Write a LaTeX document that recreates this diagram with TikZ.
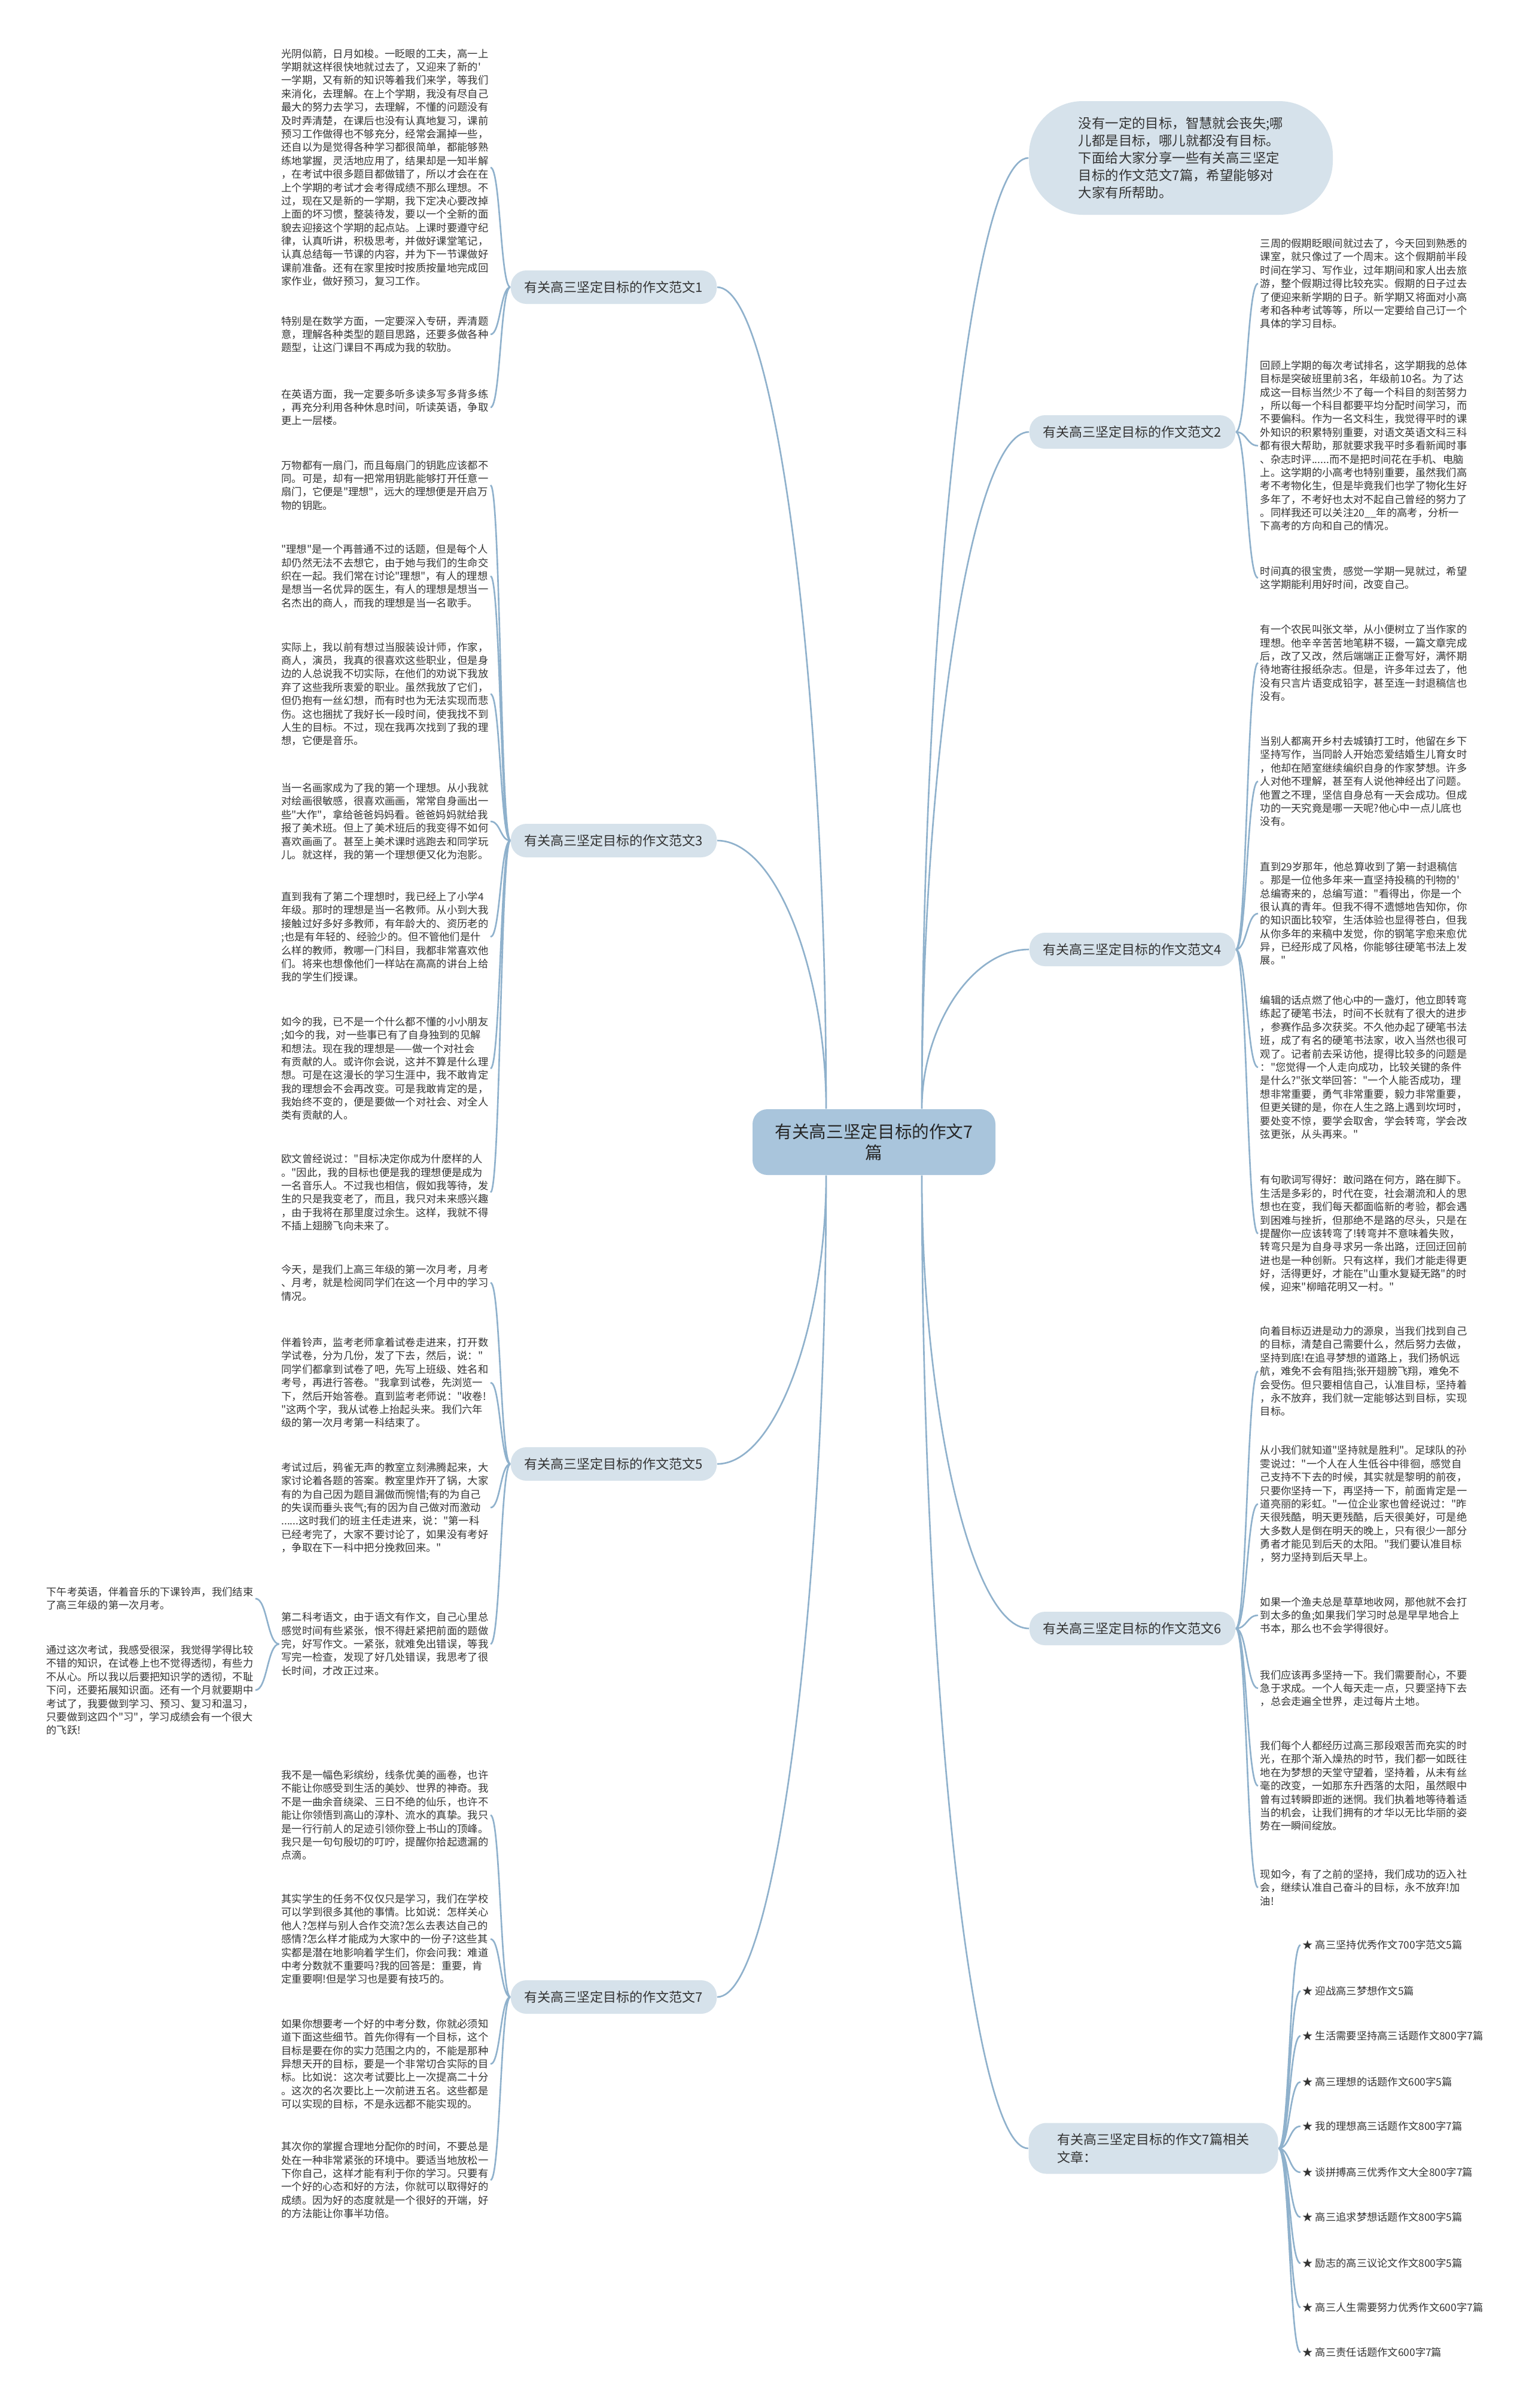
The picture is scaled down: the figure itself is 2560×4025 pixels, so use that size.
\documentclass[tikz,border=0pt]{standalone}
\usepackage{fontspec}
\newfontfamily\zhfont{Noto Sans CJK SC}
\usetikzlibrary{positioning,calc,backgrounds}
\definecolor{edgeblue}{HTML}{8FB1CC}
\definecolor{hubfill}{HTML}{A9C5DC}
\definecolor{boxfill}{HTML}{D6E2EB}
\definecolor{inkgrey}{HTML}{333333}
\tikzset{
  leaf/.style   ={font=\zhfont\fontsize{4.92}{6.37}\selectfont, text=inkgrey,
                  align=left, inner sep=0.3mm},
  branch/.style ={rectangle, rounded corners=2.6mm, fill=boxfill, text=inkgrey,
                  font=\zhfont\fontsize{6.26}{8.6}\selectfont, inner xsep=2.3mm,
                  minimum height=5.6mm},
  hub/.style    ={rectangle, rounded corners=2.5mm, fill=hubfill, text=black!85,
                  font=\zhfont\fontsize{8.15}{10.2}\selectfont, align=center,
                  minimum width=40.6mm, minimum height=11mm},
  lead/.style   ={rectangle, rounded corners=9mm, fill=boxfill, text=inkgrey,
                  font=\zhfont\fontsize{6.37}{8.25}\selectfont, align=left,
                  minimum width=50.8mm, minimum height=19mm},
  trunk/.style  ={draw=edgeblue, line width=0.75pt,
                  to path={.. controls ($(\tikztostart)!0.5!(\tikztostart |- \tikztotarget)$)
                  and ($(\tikztostart |- \tikztotarget)!0.45!(\tikztotarget)$) .. (\tikztotarget)}},
  twig/.style   ={draw=edgeblue, line width=0.75pt,
                  to path={.. controls ($(\tikztostart)!0.5!(\tikztotarget |- \tikztostart)$)
                  and ($(\tikztotarget)!0.5!(\tikztostart |- \tikztotarget)$) .. (\tikztotarget)}}
}

\begin{document}
\begin{tikzpicture}[x=0.1mm,y=-0.1mm]
\useasboundingbox (0,0) rectangle (2560,4025);
\begin{scope}[on background layer]
\fill[white] (0,0) rectangle (2560,4025);
\end{scope}

%% ---- centre and intro ----------------------------------------------
\node[hub] (hub) at (1461,1909) {有关高三坚定目标的作文7\\篇};
\node[lead] (lead) at (1974,264) {没有一定的目标，智慧就会丧失;哪\\
儿都是目标，哪儿就都没有目标。\\
下面给大家分享一些有关高三坚定\\
目标的作文范文7篇，希望能够对\\
大家有所帮助。};

\coordinate (hubNE) at ($(hub.north)+(80,0)$);
\coordinate (hubNW) at ($(hub.north)+(-80,0)$);
\coordinate (hubSE) at ($(hub.south)+(80,0)$);
\coordinate (hubSW) at ($(hub.south)+(-80,0)$);

%% ---- branches ------------------------------------------------------
\node[branch] (b1) at (1026,480) {有关高三坚定目标的作文范文1};
\node[branch] (b3) at (1026,1405) {有关高三坚定目标的作文范文3};
\node[branch] (b5) at (1026,2447) {有关高三坚定目标的作文范文5};
\node[branch] (b7) at (1026,3338) {有关高三坚定目标的作文范文7};
\node[branch] (b2) at (1893,722) {有关高三坚定目标的作文范文2};
\node[branch] (b4) at (1893,1587) {有关高三坚定目标的作文范文4};
\node[branch] (b6) at (1893,2722) {有关高三坚定目标的作文范文6};
\node[branch, align=left, minimum width=41.7mm, minimum height=8.5mm,
      rounded corners=3mm] (rel) at (1928,3591)
{有关高三坚定目标的作文7篇相关\\文章：};

%% ---- essay 1 -------------------------------------------------------
\node[leaf, anchor=east] (l1a) at (820,280) {光阴似箭，日月如梭。一眨眼的工夫，高一上\\
学期就这样很快地就过去了，又迎来了新的'\\
一学期，又有新的知识等着我们来学，等我们\\
来消化，去理解。在上个学期，我没有尽自己\\
最大的努力去学习，去理解，不懂的问题没有\\
及时弄清楚，在课后也没有认真地复习，课前\\
预习工作做得也不够充分，经常会漏掉一些，\\
还自以为是觉得各种学习都很简单，都能够熟\\
练地掌握，灵活地应用了，结果却是一知半解\\
，在考试中很多题目都做错了，所以才会在在\\
上个学期的考试才会考得成绩不那么理想。不\\
过，现在又是新的一学期，我下定决心要改掉\\
上面的坏习惯，整装待发，要以一个全新的面\\
貌去迎接这个学期的起点站。上课时要遵守纪\\
律，认真听讲，积极思考，并做好课堂笔记，\\
认真总结每一节课的内容，并为下一节课做好\\
课前准备。还有在家里按时按质按量地完成回\\
家作业，做好预习，复习工作。};
\node[leaf, anchor=east] (l1b) at (820,559) {特别是在数学方面，一定要深入专研，弄清题\\
意，理解各种类型的题目思路，还要多做各种\\
题型，让这门课目不再成为我的软肋。};
\node[leaf, anchor=east] (l1c) at (820,681) {在英语方面，我一定要多听多读多写多背多练\\
，再充分利用各种休息时间，听读英语，争取\\
更上一层楼。};

%% ---- essay 3 -------------------------------------------------------
\node[leaf, anchor=east] (l3a) at (820,811) {万物都有一扇门，而且每扇门的钥匙应该都不\\
同。可是，却有一把常用钥匙能够打开任意一\\
扇门，它便是"理想"，远大的理想便是开启万\\
物的钥匙。};
\node[leaf, anchor=east] (l3b) at (820,963) {"理想"是一个再普通不过的话题，但是每个人\\
却仍然无法不去想它，由于她与我们的生命交\\
织在一起。我们常在讨论"理想"，有人的理想\\
是想当一名优异的医生，有人的理想是想当一\\
名杰出的商人，而我的理想是当一名歌手。};
\node[leaf, anchor=east] (l3c) at (820,1160) {实际上，我以前有想过当服装设计师，作家，\\
商人，演员，我真的很喜欢这些职业，但是身\\
边的人总说我不切实际，在他们的劝说下我放\\
弃了这些我所衷爱的职业。虽然我放了它们，\\
但仍抱有一丝幻想，而有时也为无法实现而悲\\
伤。这也捆扰了我好长一段时间，使我找不到\\
人生的目标。不过，现在我再次找到了我的理\\
想，它便是音乐。};
\node[leaf, anchor=east] (l3d) at (820,1373) {当一名画家成为了我的第一个理想。从小我就\\
对绘画很敏感，很喜欢画画，常常自身画出一\\
些"大作"，拿给爸爸妈妈看。爸爸妈妈就给我\\
报了美术班。但上了美术班后的我变得不如何\\
喜欢画画了。甚至上美术课时逃跑去和同学玩\\
儿。就这样，我的第一个理想便又化为泡影。};
\node[leaf, anchor=east] (l3e) at (820,1566) {直到我有了第二个理想时，我已经上了小学4\\
年级。那时的理想是当一名教师。从小到大我\\
接触过好多好多教师，有年龄大的、资历老的\\
;也是有年轻的、经验少的。但不管他们是什\\
么样的教师，教哪一门科目，我都非常喜欢他\\
们。将来也想像他们一样站在高高的讲台上给\\
我的学生们授课。};
\node[leaf, anchor=east] (l3f) at (820,1786) {如今的我，已不是一个什么都不懂的小小朋友\\
;如今的我，对一些事已有了自身独到的见解\\
和想法。现在我的理想是——做一个对社会\\
有贡献的人。或许你会说，这并不算是什么理\\
想。可是在这漫长的学习生涯中，我不敢肯定\\
我的理想会不会再改变。可是我敢肯定的是，\\
我始终不变的，便是要做一个对社会、对全人\\
类有贡献的人。};
\node[leaf, anchor=east] (l3g) at (820,1993) {欧文曾经说过："目标决定你成为什麽样的人\\
。"因此，我的目标也便是我的理想便是成为\\
一名音乐人。不过我也相信，假如我等待，发\\
生的只是我变老了，而且，我只对未来感兴趣\\
，由于我将在那里度过余生。这样，我就不得\\
不插上翅膀飞向未来了。};

%% ---- essay 5 -------------------------------------------------------
\node[leaf, anchor=east] (l5a) at (820,2144) {今天，是我们上高三年级的第一次月考，月考\\
、月考，就是检阅同学们在这一个月中的学习\\
情况。};
\node[leaf, anchor=east] (l5b) at (820,2311) {伴着铃声，监考老师拿着试卷走进来，打开数\\
学试卷，分为几份，发了下去，然后，说："\\
同学们都拿到试卷了吧，先写上班级、姓名和\\
考号，再进行答卷。"我拿到试卷，先浏览一\\
下，然后开始答卷。直到监考老师说："收卷!\\
"这两个字，我从试卷上抬起头来。我们六年\\
级的第一次月考第一科结束了。};
\node[leaf, anchor=east] (l5c) at (820,2520) {考试过后，鸦雀无声的教室立刻沸腾起来，大\\
家讨论着各题的答案。教室里炸开了锅，大家\\
有的为自己因为题目漏做而惋惜;有的为自己\\
的失误而垂头丧气;有的因为自己做对而激动\\
......这时我们的班主任走进来，说："第一科\\
已经考完了，大家不要讨论了，如果没有考好\\
，争取在下一科中把分挽救回来。"};
\node[leaf, anchor=east] (l5d) at (820,2748) {第二科考语文，由于语文有作文，自己心里总\\
感觉时间有些紧张，恨不得赶紧把前面的题做\\
完，好写作文。一紧张，就难免出错误，等我\\
写完一检查，发现了好几处错误，我思考了很\\
长时间，才改正过来。};
\node[leaf, anchor=east] (l5e) at (427,2672) {下午考英语，伴着音乐的下课铃声，我们结束\\
了高三年级的第一次月考。};
\node[leaf, anchor=east] (l5f) at (427,2825) {通过这次考试，我感受很深，我觉得学得比较\\
不错的知识，在试卷上也不觉得透彻，有些力\\
不从心。所以我以后要把知识学的透彻，不耻\\
下问，还要拓展知识面。还有一个月就要期中\\
考试了，我要做到学习、预习、复习和温习，\\
只要做到这四个"习"，学习成绩会有一个很大\\
的飞跃!};

%% ---- essay 7 -------------------------------------------------------
\node[leaf, anchor=east] (l7a) at (820,3034) {我不是一幅色彩缤纷，线条优美的画卷，也许\\
不能让你感受到生活的美妙、世界的神奇。我\\
不是一曲余音绕梁、三日不绝的仙乐，也许不\\
能让你领悟到高山的淳朴、流水的真挚。我只\\
是一行行前人的足迹引领你登上书山的顶峰。\\
我只是一句句殷切的叮咛，提醒你拾起遗漏的\\
点滴。};
\node[leaf, anchor=east] (l7b) at (820,3241) {其实学生的任务不仅仅只是学习，我们在学校\\
可以学到很多其他的事情。比如说：怎样关心\\
他人?怎样与别人合作交流?怎么去表达自己的\\
感情?怎么样才能成为大家中的一份子?这些其\\
实都是潜在地影响着学生们，你会问我：难道\\
中考分数就不重要吗?我的回答是：重要，肯\\
定重要啊!但是学习也是要有技巧的。};
\node[leaf, anchor=east] (l7c) at (820,3450) {如果你想要考一个好的中考分数，你就必须知\\
道下面这些细节。首先你得有一个目标，这个\\
目标是要在你的实力范围之内的，不能是那种\\
异想天开的目标，要是一个非常切合实际的目\\
标。比如说：这次考试要比上一次提高二十分\\
。这次的名次要比上一次前进五名。这些都是\\
可以实现的目标，不是永远都不能实现的。};
\node[leaf, anchor=east] (l7d) at (820,3644) {其次你的掌握合理地分配你的时间，不要总是\\
处在一种非常紧张的环境中。要适当地放松一\\
下你自己，这样才能有利于你的学习。只要有\\
一个好的心态和好的方法，你就可以取得好的\\
成绩。因为好的态度就是一个很好的开端，好\\
的方法能让你事半功倍。};

%% ---- essay 2 -------------------------------------------------------
\node[leaf, anchor=west] (r2a) at (2103,474) {三周的假期眨眼间就过去了，今天回到熟悉的\\
课室，就只像过了一个周末。这个假期前半段\\
时间在学习、写作业，过年期间和家人出去旅\\
游，整个假期过得比较充实。假期的日子过去\\
了便迎来新学期的日子。新学期又将面对小高\\
考和各种考试等等，所以一定要给自己订一个\\
具体的学习目标。};
\node[leaf, anchor=west] (r2b) at (2103,745) {回顾上学期的每次考试排名，这学期我的总体\\
目标是突破班里前3名，年级前10名。为了达\\
成这一目标当然少不了每一个科目的刻苦努力\\
，所以每一个科目都要平均分配时间学习，而\\
不要偏科。作为一名文科生，我觉得平时的课\\
外知识的积累特别重要，对语文英语文科三科\\
都有很大帮助，那就要求我平时多看新闻时事\\
、杂志时评......而不是把时间花在手机、电脑\\
上。这学期的小高考也特别重要，虽然我们高\\
考不考物化生，但是毕竟我们也学了物化生好\\
多年了，不考好也太对不起自己曾经的努力了\\
。同样我还可以关注20\_\_年的高考，分析一\\
下高考的方向和自己的情况。};
\node[leaf, anchor=west] (r2c) at (2103,966) {时间真的很宝贵，感觉一学期一晃就过，希望\\
这学期能利用好时间，改变自己。};

%% ---- essay 4 -------------------------------------------------------
\node[leaf, anchor=west] (r4a) at (2103,1108) {有一个农民叫张文举，从小便树立了当作家的\\
理想。他辛辛苦苦地笔耕不辍，一篇文章完成\\
后，改了又改，然后端端正正誊写好，满怀期\\
待地寄往报纸杂志。但是，许多年过去了，他\\
没有只言片语变成铅字，甚至连一封退稿信也\\
没有。};
\node[leaf, anchor=west] (r4b) at (2103,1306) {当别人都离开乡村去城镇打工时，他留在乡下\\
坚持写作，当同龄人开始恋爱结婚生儿育女时\\
，他却在陋室继续编织自身的作家梦想。许多\\
人对他不理解，甚至有人说他神经出了问题。\\
他置之不理，坚信自身总有一天会成功。但成\\
功的一天究竟是哪一天呢?他心中一点儿底也\\
没有。};
\node[leaf, anchor=west] (r4c) at (2103,1527) {直到29岁那年，他总算收到了第一封退稿信\\
。那是一位他多年来一直坚持投稿的刊物的'\\
总编寄来的，总编写道："看得出，你是一个\\
很认真的青年。但我不得不遗憾地告知你，你\\
的知识面比较窄，生活体验也显得苍白，但我\\
从你多年的来稿中发觉，你的钢笔字愈来愈优\\
异，已经形成了风格，你能够往硬笔书法上发\\
展。"};
\node[leaf, anchor=west] (r4d) at (2103,1784) {编辑的话点燃了他心中的一盏灯，他立即转弯\\
练起了硬笔书法，时间不长就有了很大的进步\\
，参赛作品多次获奖。不久他办起了硬笔书法\\
班，成了有名的硬笔书法家，收入当然也很可\\
观了。记者前去采访他，提得比较多的问题是\\
："您觉得一个人走向成功，比较关键的条件\\
是什么?"张文举回答："一个人能否成功，理\\
想非常重要，勇气非常重要，毅力非常重要，\\
但更关键的是，你在人生之路上遇到坎坷时，\\
要处变不惊，要学会取舍，学会转弯，学会改\\
弦更张，从头再来。"};
\node[leaf, anchor=west] (r4e) at (2103,2062) {有句歌词写得好：敢问路在何方，路在脚下。\\
生活是多彩的，时代在变，社会潮流和人的思\\
想也在变，我们每天都面临新的考验，都会遇\\
到困难与挫折，但那绝不是路的尽头，只是在\\
提醒你一应该转弯了!转弯并不意味着失败，\\
转弯只是为自身寻求另一条出路，迂回迂回前\\
进也是一种创新。只有这样，我们才能走得更\\
好，活得更好，才能在"山重水复疑无路"的时\\
候，迎来"柳暗花明又一村。"};

%% ---- essay 6 -------------------------------------------------------
\node[leaf, anchor=west] (r6a) at (2103,2292) {向着目标迈进是动力的源泉，当我们找到自己\\
的目标，清楚自己需要什么，然后努力去做，\\
坚持到底!在追寻梦想的道路上，我们扬帆远\\
航，难免不会有阻挡;张开翅膀飞翔，难免不\\
会受伤。但只要相信自己，认准目标，坚持着\\
，永不放弃，我们就一定能够达到目标，实现\\
目标。};
\node[leaf, anchor=west] (r6b) at (2103,2514) {从小我们就知道"坚持就是胜利"。足球队的孙\\
雯说过："一个人在人生低谷中徘徊，感觉自\\
己支持不下去的时候，其实就是黎明的前夜，\\
只要你坚持一下，再坚持一下，前面肯定是一\\
道亮丽的彩虹。"一位企业家也曾经说过："昨\\
天很残酷，明天更残酷，后天很美好，可是绝\\
大多数人是倒在明天的晚上，只有很少一部分\\
勇者才能见到后天的太阳。"我们要认准目标\\
，努力坚持到后天早上。};
\node[leaf, anchor=west] (r6c) at (2103,2700) {如果一个渔夫总是草草地收网，那他就不会打\\
到太多的鱼;如果我们学习时总是早早地合上\\
书本，那么也不会学得很好。};
\node[leaf, anchor=west] (r6d) at (2103,2822) {我们应该再多坚持一下。我们需要耐心，不要\\
急于求成。一个人每天走一点，只要坚持下去\\
，总会走遍全世界，走过每片土地。};
\node[leaf, anchor=west] (r6e) at (2103,2985) {我们每个人都经历过高三那段艰苦而充实的时\\
光，在那个渐入燥热的时节，我们都一如既往\\
地在为梦想的天堂守望着，坚持着，从未有丝\\
毫的改变，一如那东升西落的太阳，虽然眼中\\
曾有过转瞬即逝的迷惘。我们执着地等待着适\\
当的机会，让我们拥有的才华以无比华丽的姿\\
势在一瞬间绽放。};
\node[leaf, anchor=west] (r6f) at (2103,3155) {现如今，有了之前的坚持，我们成功的迈入社\\
会，继续认准自己奋斗的目标，永不放弃!加\\
油!};

%% ---- related titles ------------------------------------------------
\node[leaf, anchor=west] (t1) at (2174,3251) {★ 高三坚持优秀作文700字范文5篇};
\node[leaf, anchor=west] (t2) at (2174,3328) {★ 迎战高三梦想作文5篇};
\node[leaf, anchor=west] (t3) at (2174,3403) {★ 生活需要坚持高三话题作文800字7篇};
\node[leaf, anchor=west] (t4) at (2174,3480) {★ 高三理想的话题作文600字5篇};
\node[leaf, anchor=west] (t5) at (2174,3554) {★ 我的理想高三话题作文800字7篇};
\node[leaf, anchor=west] (t6) at (2174,3631) {★ 谈拼搏高三优秀作文大全800字7篇};
\node[leaf, anchor=west] (t7) at (2174,3706) {★ 高三追求梦想话题作文800字5篇};
\node[leaf, anchor=west] (t8) at (2174,3783) {★ 励志的高三议论文作文800字5篇};
\node[leaf, anchor=west] (t9) at (2174,3857) {★ 高三人生需要努力优秀作文600字7篇};
\node[leaf, anchor=west] (t10) at (2174,3932) {★ 高三责任话题作文600字7篇};

%% ---- wiring --------------------------------------------------------
\begin{scope}[on background layer]
\draw[trunk] (hubNE) to (lead.west) (hubNE) to (b2.west) (hubNE) to (b4.west);
\draw[trunk] (hubSE) to (b6.west) (hubSE) to (rel.west);
\draw[trunk] (hubNW) to (b1.east) (hubNW) to (b3.east);
\draw[trunk] (hubSW) to (b5.east) (hubSW) to (b7.east);

\draw[twig] (b1.west) to (l1a.east) (b1.west) to (l1b.east) (b1.west) to (l1c.east);
\draw[twig] (b3.west) to (l3a.east) (b3.west) to (l3b.east) (b3.west) to (l3c.east)
  (b3.west) to (l3d.east) (b3.west) to (l3e.east) (b3.west) to (l3f.east)
  (b3.west) to (l3g.east);
\draw[twig] (b5.west) to (l5a.east) (b5.west) to (l5b.east) (b5.west) to (l5c.east)
  (b5.west) to (l5d.east);
\draw[twig] (l5d.west) to (l5e.east) (l5d.west) to (l5f.east);
\draw[twig] (b7.west) to (l7a.east) (b7.west) to (l7b.east) (b7.west) to (l7c.east)
  (b7.west) to (l7d.east);

\draw[twig] (b2.east) to (r2a.west) (b2.east) to (r2b.west) (b2.east) to (r2c.west);
\draw[twig] (b4.east) to (r4a.west) (b4.east) to (r4b.west) (b4.east) to (r4c.west)
  (b4.east) to (r4d.west) (b4.east) to (r4e.west);
\draw[twig] (b6.east) to (r6a.west) (b6.east) to (r6b.west) (b6.east) to (r6c.west)
  (b6.east) to (r6d.west) (b6.east) to (r6e.west) (b6.east) to (r6f.west);
\draw[twig] (rel.east) to (t1.west) (rel.east) to (t2.west) (rel.east) to (t3.west)
  (rel.east) to (t4.west) (rel.east) to (t5.west) (rel.east) to (t6.west)
  (rel.east) to (t7.west) (rel.east) to (t8.west) (rel.east) to (t9.west)
  (rel.east) to (t10.west);
\end{scope}
\end{tikzpicture}
\end{document}
